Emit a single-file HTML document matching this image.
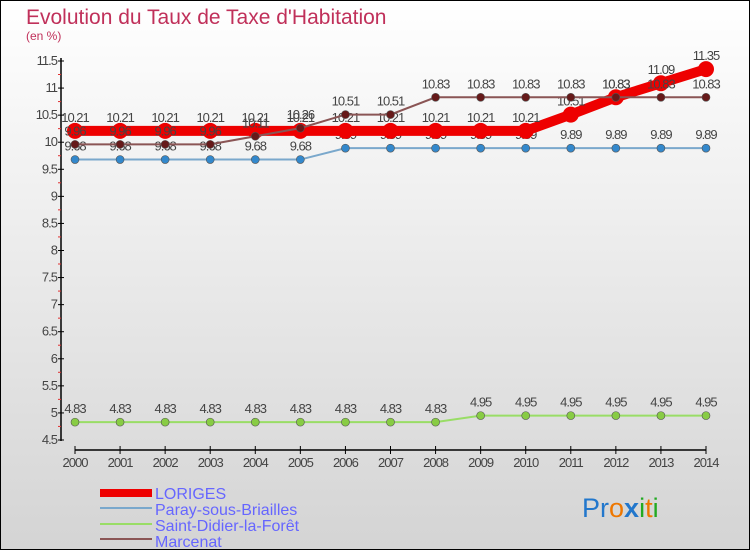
<!DOCTYPE html>
<html><head><meta charset="utf-8"><style>
body{margin:0}
#c{width:750px;height:550px;position:relative;overflow:hidden}
text{font-family:"Liberation Sans",sans-serif}
</style></head><body>
<div id="c">
<svg id="s" width="750" height="550" xmlns="http://www.w3.org/2000/svg">
<defs><linearGradient id="bg" x1="0" y1="0" x2="0" y2="1"><stop offset="0" stop-color="#ffffff"/><stop offset="1" stop-color="#d4d4d4"/></linearGradient></defs>
<rect x="0.5" y="0.5" width="749" height="549" fill="url(#bg)" stroke="#000"/>
<text x="26" y="24" font-size="21" fill="#c0305a">Evolution du Taux de Taxe d'Habitation</text>
<text x="26" y="40" font-size="12" fill="#c0305a">(en %)</text>
<g id="axes"></g><g id="series"></g>
<g>
<rect x="100" y="489" width="52" height="8" fill="#ee0000"/>
<text x="155" y="499" font-size="16" fill="#6666ff">LORIGES</text>
<rect x="100" y="507" width="52" height="2" fill="#7aa8cc"/>
<text x="155" y="515" font-size="16" fill="#6666ff">Paray-sous-Briailles</text>
<rect x="100" y="523" width="52" height="2" fill="#99dd66"/>
<text x="155" y="531" font-size="16" fill="#6666ff">Saint-Didier-la-Forêt</text>
<rect x="100" y="538" width="52" height="2" fill="#8a5555"/>
<text x="155" y="547" font-size="16" fill="#6666ff">Marcenat</text>
</g>
<text x="582" y="517" font-size="27"><tspan fill="#2277cc">Pr</tspan><tspan fill="#ee7700">o</tspan><tspan fill="#2277cc" font-weight="bold">x</tspan><tspan fill="#22aa22">i</tspan><tspan fill="#ee7700">t</tspan><tspan fill="#22aa22">i</tspan></text>
</svg></div>
<script>
const years=[2000,2001,2002,2003,2004,2005,2006,2007,2008,2009,2010,2011,2012,2013,2014];
const yTicks=[4.5,5,5.5,6,6.5,7,7.5,8,8.5,9,9.5,10,10.5,11,11.5];
const loriges=[10.21,10.21,10.21,10.21,10.21,10.21,10.21,10.21,10.21,10.21,10.21,10.51,10.83,11.09,11.35];
const paray=[9.68,9.68,9.68,9.68,9.68,9.68,9.89,9.89,9.89,9.89,9.89,9.89,9.89,9.89,9.89];
const saintDidier=[4.83,4.83,4.83,4.83,4.83,4.83,4.83,4.83,4.83,4.95,4.95,4.95,4.95,4.95,4.95];
const marcenat=[9.96,9.96,9.96,9.96,10.11,10.26,10.51,10.51,10.83,10.83,10.83,10.83,10.83,10.83,10.83];
const NS="http://www.w3.org/2000/svg";
const X=i=>75+i*(706-75)/14;
const Y=v=>440-(v-4.5)*(440-61)/7;
function mk(p,t,a){const e=document.createElementNS(NS,t);for(const k in a)e.setAttribute(k,a[k]);p.appendChild(e);return e;}
const ax=document.getElementById('axes');
const ya=mk(ax,'line',{x1:61,y1:58,x2:61,y2:441,stroke:'#000','stroke-width':1.5});


const xa=mk(ax,'line',{x1:75,y1:450,x2:706,y2:450,stroke:'#000','stroke-width':1.5});


yTicks.forEach(v=>{
 mk(ax,'line',{x1:58,y1:Y(v),x2:64,y2:Y(v),stroke:'#000'});
 mk(ax,'line',{x1:58,y1:Y(v)+13.5,x2:61,y2:Y(v)+13.5,stroke:v>4.5?'#e03030':'none'});
 const t=mk(ax,'text',{x:57,y:Y(v)+4,'font-size':13,fill:'#444','text-anchor':'end','letter-spacing':'-1'});
 t.textContent=String(v);
 
 
});
years.forEach((yr,i)=>{
 mk(ax,'line',{x1:X(i),y1:446,x2:X(i),y2:454,stroke:'#000'});
 const t=mk(ax,'text',{x:X(i),y:467,'font-size':13,fill:'#444','text-anchor':'middle','letter-spacing':'-1'});
 t.textContent=yr;
 
 
});
const sg=document.getElementById('series');
function draw(data,name,col,w,r,dot){
 const g=mk(sg,'g',{});
 
 
 mk(g,'polyline',{points:data.map((v,i)=>X(i)+','+Y(v)).join(' '),fill:'none',stroke:col,'stroke-width':w});
 data.forEach((v,i)=>{
  const c=mk(g,'circle',{cx:X(i),cy:Y(v),r:r,fill:dot,stroke:'#555','stroke-width':r>6?0:0.6});
  
  
  const t=mk(g,'text',{x:X(i),y:Y(v)-9,'font-size':13,fill:'#444','text-anchor':'middle','letter-spacing':'-1'});
  t.textContent=String(v);
  
  
 });
}
draw(saintDidier,'saint-didier','#99dd66',2,4,'#88cc44');
draw(paray,'paray','#7aa8cc',2,4,'#3388cc');
draw(loriges,'loriges','#ee0000',10,8,'#ee0000');
draw(marcenat,'marcenat','#8a5555',2,4,'#661a1a');
</script>
</body></html>
